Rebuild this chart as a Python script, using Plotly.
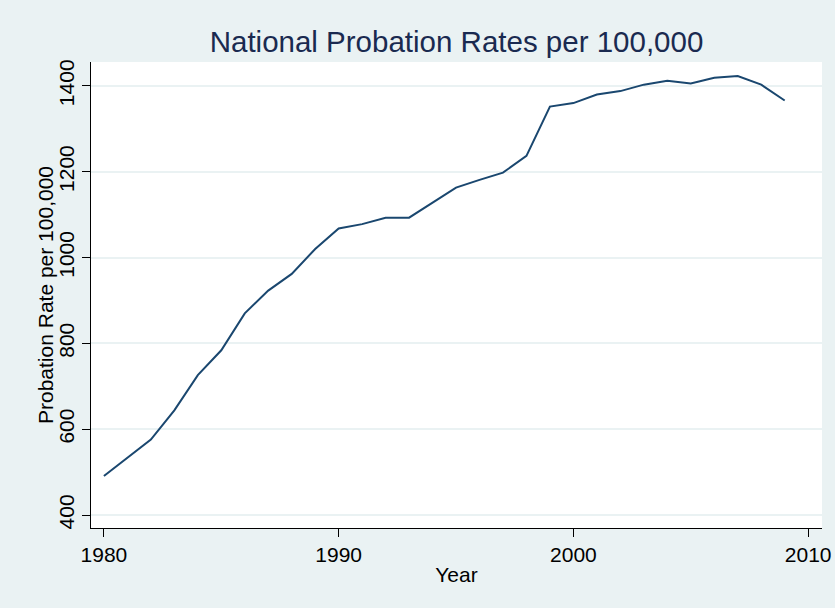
import plotly.graph_objects as go

years = list(range(1980, 2010))
rates = [491, 533, 576, 644, 726, 784, 870, 923, 962, 1020,
         1068, 1078, 1093, 1093, 1127, 1163, 1181, 1198, 1237, 1352,
         1360, 1380, 1388, 1403, 1412, 1406, 1419, 1423, 1403, 1366]

x_ticks = [1980, 1990, 2000, 2010]
y_ticks = [400, 600, 800, 1000, 1200, 1400]

BG = "#EAF2F3"
NAVY = "#1a476f"
FONT = "Liberation Sans, Arial, sans-serif"

fig = go.Figure()
fig.add_trace(go.Scatter(x=years, y=rates, mode="lines",
                         line=dict(color=NAVY, width=2), showlegend=False,
                         hoverinfo="x+y"))

fig.update_layout(
    width=835, height=608,
    paper_bgcolor=BG, plot_bgcolor="white",
    margin=dict(l=91, r=13, t=62, b=80),
    font=dict(family=FONT, color="#000000", size=21),
    title=dict(text="National Probation Rates per 100,000",
               x=(91 + 822) / 2 / 835, xanchor="center",
               y=1 - 42 / 608, yanchor="middle", yref="container",
               font=dict(size=29.5, color="#1a2a50", family=FONT)),
)
fig.add_annotation(text="Probation Rate per 100,000", textangle=-90,
                   xref="paper", yref="paper", x=(45 - 91) / 731, y=0.5,
                   xanchor="center", yanchor="middle", showarrow=False,
                   font=dict(size=21, color="#000000", family=FONT))
fig.update_xaxes(range=[1979.45, 2010.59], tickvals=x_ticks,
                 showgrid=False, zeroline=False, automargin=False,
                 showline=True, linecolor="#000000", linewidth=1,
                 ticks="outside", ticklen=8, tickcolor="#000000",
                 tickfont=dict(size=21),
                 title=dict(text="Year", font=dict(size=21), standoff=2))
fig.update_yaxes(range=[369.8, 1455.8], tickvals=y_ticks,
                 showgrid=True, gridcolor=BG, gridwidth=1.5, zeroline=False,
                 automargin=False,
                 showline=True, linecolor="#000000", linewidth=1,
                 ticks="outside", ticklen=8, tickcolor="#000000",
                 tickangle=-90, tickfont=dict(size=21))

fig.write_html("out.html")
